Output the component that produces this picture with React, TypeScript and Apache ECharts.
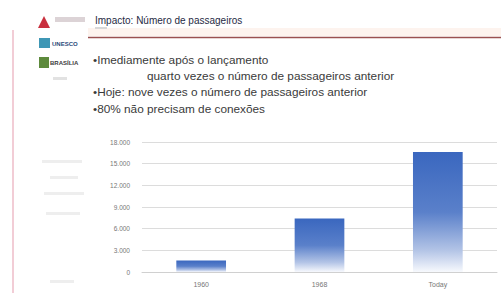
import React, { useEffect, useRef } from "react";
import * as echarts from "echarts";

const categories = ["1960", "1968", "Today"];
const passengers = [1600, 7400, 16600];
const yTicks = [0, 3000, 6000, 9000, 12000, 15000, 18000];
const titleText = "Impacto: Número de passageiros";
const bullets = [
  "•Imediamente após o lançamento",
  "quarto vezes o número de passageiros anterior",
  "•Hoje: nove vezes o número de passageiros anterior",
  "•80% não precisam de conexões",
];

const fmt = (v: number) => (v === 0 ? "0" : v.toLocaleString("de-DE"));

export default function App() {
  const ref = useRef<HTMLDivElement>(null);
  useEffect(() => {
    document.body.style.margin = "0";
    const chart = echarts.init(ref.current!, null, { renderer: "svg" });
    const barGradient = new echarts.graphic.LinearGradient(0, 0, 0, 1, [
      { offset: 0, color: "#3a67bf" },
      { offset: 0.5, color: "#5a80ca" },
      { offset: 0.82, color: "#b3c4e6" },
      { offset: 1, color: "#f7f9fd" },
    ]);
    const txt = (x: number, y: number, text: string, size: number, fill: string, weight = "normal") => ({
      type: "text",
      style: { x, y, text, fill, fontSize: size, fontWeight: weight, fontFamily: "Liberation Sans", verticalAlign: "middle" },
    });
    chart.setOption({
      animation: false,
      backgroundColor: "#ffffff",
      grid: { left: 142, right: 4, top: 142, bottom: 21 },
      xAxis: {
        type: "category",
        data: categories,
        axisLine: { show: true, lineStyle: { color: "#d0d0d0", width: 1 } },
        axisTick: { show: false },
        axisLabel: { color: "#777", fontSize: 7, fontFamily: "Liberation Sans", margin: 9 },
      },
      yAxis: {
        type: "value",
        min: 0,
        max: 18000,
        interval: 3000,
        axisLine: { show: false },
        axisTick: { show: false },
        splitLine: { lineStyle: { color: "#dcdcdc", width: 1.2 } },
        axisLabel: {
          color: "#777",
          fontSize: 6.5,
          fontFamily: "Liberation Sans",
          margin: 12,
          formatter: (v: number) => (yTicks.includes(v) ? fmt(v) : ""),
        },
      },
      series: [
        {
          type: "bar",
          data: passengers,
          barWidth: "42%",
          itemStyle: { color: barGradient },
        },
      ],
      graphic: [
        { type: "line", shape: { x1: 13, y1: 30, x2: 13, y2: 293 }, style: { stroke: "#f2cdd6", lineWidth: 2 } },
        { type: "rect", shape: { x: 88, y: 28, width: 413, height: 8 }, style: { fill: "#fdf3ee" } },
        { type: "line", shape: { x1: 88, y1: 37.5, x2: 501, y2: 37.5 }, style: { stroke: "#9a5050", lineWidth: 1.6 } },
        { type: "polygon", shape: { points: [[38, 28], [44, 16], [50, 28]] }, style: { fill: "#c9303e" } },
        { type: "rect", shape: { x: 55, y: 17, width: 30, height: 5 }, style: { fill: "#dcd3d6" } },
        { type: "rect", shape: { x: 39, y: 38, width: 11, height: 10 }, style: { fill: "#3f97b5" } },
        txt(52, 43.5, "UNESCO", 6, "#2b4a7a", "bold"),
        { type: "rect", shape: { x: 39, y: 57, width: 10, height: 11 }, style: { fill: "#5d8a3c" } },
        txt(50, 63, "BRASÍLIA", 6, "#3a3a3a", "bold"),
        { type: "rect", shape: { x: 53, y: 77, width: 14, height: 3 }, style: { fill: "#e2e2e2" } },
        { type: "rect", shape: { x: 42, y: 160, width: 40, height: 3 }, style: { fill: "#eeeeee" } },
        { type: "rect", shape: { x: 50, y: 176, width: 28, height: 3 }, style: { fill: "#eeeeee" } },
        { type: "rect", shape: { x: 44, y: 192, width: 40, height: 3 }, style: { fill: "#eeeeee" } },
        { type: "rect", shape: { x: 46, y: 212, width: 34, height: 3 }, style: { fill: "#eeeeee" } },
        { type: "rect", shape: { x: 50, y: 280, width: 24, height: 3 }, style: { fill: "#eeeeee" } },
        txt(95, 20, titleText, 10, "#1f2a44"),
        { type: "rect", shape: { x: 95, y: 27, width: 12, height: 2 }, style: { fill: "#d8d8d8" } },
        txt(93, 60, bullets[0], 11.8, "#3a3a3a"),
        txt(147, 76, bullets[1], 11.8, "#3a3a3a"),
        txt(93, 92, bullets[2], 11.8, "#3a3a3a"),
        txt(93, 109, bullets[3], 11.8, "#3a3a3a"),
      ],
    });
    return () => chart.dispose();
  }, []);
  return <div ref={ref} style={{ position: "absolute", left: 0, top: 0, width: 501, height: 293 }} />;
}
